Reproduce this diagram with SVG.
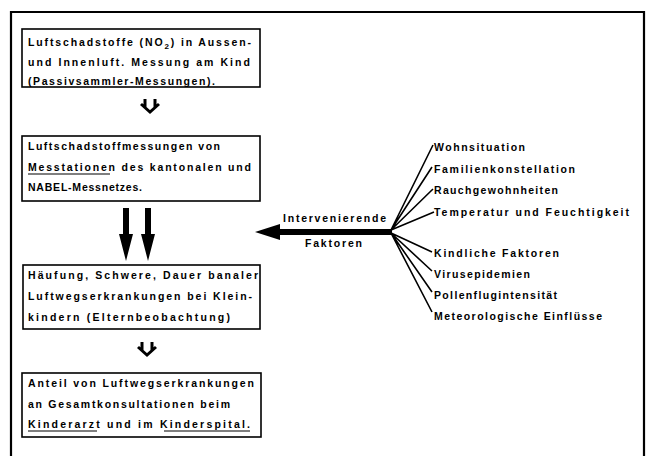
<svg xmlns="http://www.w3.org/2000/svg" width="652" height="456" viewBox="0 0 652 456">
<style>
.box{fill:#fff;stroke:#000;stroke-width:1.6}
.t{font-family:"Liberation Sans",Arial,sans-serif;font-size:10.5px;font-weight:bold;fill:#000}
.r{font-family:"Liberation Sans",Arial,sans-serif;font-size:10.5px;font-weight:bold;fill:#000}
.ul{stroke:#000;stroke-width:1.2}
.fan{stroke:#000;stroke-width:1.6;fill:none}
.chev{stroke:#000;stroke-width:3;fill:none;stroke-linejoin:miter}
</style>
<rect width="652" height="456" fill="#fff"/>
<g id="frame"><path d="M11,460 V12 H644 V460" fill="none" stroke="#000" stroke-width="2.2"/></g>

<g id="box1">
<rect class="box" x="22" y="29" width="238" height="58"/>
<text class="t" x="28" y="46" textLength="223" lengthAdjust="spacing">Luftschadstoffe (NO<tspan font-size="8" dy="3">2</tspan><tspan dy="-3">) in Aussen-</tspan></text>
<text class="t" x="28" y="66" textLength="222" lengthAdjust="spacing">und Innenluft. Messung am Kind</text>
<text class="t" x="28" y="85" textLength="187" lengthAdjust="spacing">(Passivsammler-Messungen).</text>
</g>

<g id="box2">
<rect class="box" x="22" y="136" width="238" height="65"/>
<text class="t" x="28" y="150" textLength="192" lengthAdjust="spacing">Luftschadstoffmessungen von</text>
<text class="t" x="28" y="171" textLength="223" lengthAdjust="spacing">Messtationen des kantonalen und</text>
<line class="ul" x1="28" y1="174" x2="110" y2="174"/>
<text class="t" x="28" y="191" textLength="114" lengthAdjust="spacing">NABEL-Messnetzes.</text>
</g>

<g id="box3">
<rect class="box" x="23" y="265" width="237" height="64"/>
<text class="t" x="28" y="279" textLength="230" lengthAdjust="spacing">Häufung, Schwere, Dauer banaler</text>
<text class="t" x="28" y="300" textLength="224" lengthAdjust="spacing">Luftwegserkrankungen bei Klein-</text>
<text class="t" x="28" y="321" textLength="202" lengthAdjust="spacing">kindern (Elternbeobachtung)</text>
</g>

<g id="box4">
<rect class="box" x="22" y="373" width="239" height="64"/>
<text class="t" x="28" y="387" textLength="226" lengthAdjust="spacing">Anteil von Luftwegserkrankungen</text>
<text class="t" x="28" y="408" textLength="202" lengthAdjust="spacing">an Gesamtkonsultationen beim</text>
<text class="t" x="28" y="428" textLength="222" lengthAdjust="spacing">Kinderarzt und im Kinderspital.</text>
<line class="ul" x1="28" y1="431" x2="97" y2="431"/>
<line class="ul" x1="164" y1="431" x2="250" y2="431"/>
</g>

<g id="factors">
<text class="r" x="434" y="151" textLength="91" lengthAdjust="spacing">Wohnsituation</text>
<text class="r" x="434" y="173" textLength="141" lengthAdjust="spacing">Familienkonstellation</text>
<text class="r" x="434" y="194" textLength="124" lengthAdjust="spacing">Rauchgewohnheiten</text>
<text class="r" x="434" y="216" textLength="195" lengthAdjust="spacing">Temperatur und Feuchtigkeit</text>
<text class="r" x="434" y="257" textLength="125" lengthAdjust="spacing">Kindliche Faktoren</text>
<text class="r" x="434" y="278" textLength="96" lengthAdjust="spacing">Virusepidemien</text>
<text class="r" x="434" y="299" textLength="123" lengthAdjust="spacing">Pollenflugintensität</text>
<text class="r" x="434" y="320" textLength="168" lengthAdjust="spacing">Meteorologische Einflüsse</text>
</g>

<g id="intervening">
<text class="r" x="283" y="222" textLength="103" lengthAdjust="spacing">Intervenierende</text>
<text class="r" x="305" y="247" textLength="57" lengthAdjust="spacing">Faktoren</text>
</g>

<g id="connectors">
<path class="chev" d="M145,99 V107 M155,99 V107 M141,104 L150,112 L159,104"/>
<path class="chev" d="M142,342 V350 M152,342 V350 M138,347 L147,355 L156,347"/>
<path d="M123,208 H129 V234 H133 L126,261 L119,234 H123 Z" fill="#000"/>
<path d="M145,208 H151 V234 H155 L148,261 L141,234 H145 Z" fill="#000"/>
<path d="M255,232 L280,224 L280,229 H392 V235 H280 L280,240 Z" fill="#000"/>
<path class="fan" d="M391,230 L433,145 M391,230 L432,167 M391,230 L433,189 M391,230 L434,212 M391,233 L432,252 M391,233 L432,271 M391,233 L432,292 M391,233 L432,312"/>
</g>
</svg>
